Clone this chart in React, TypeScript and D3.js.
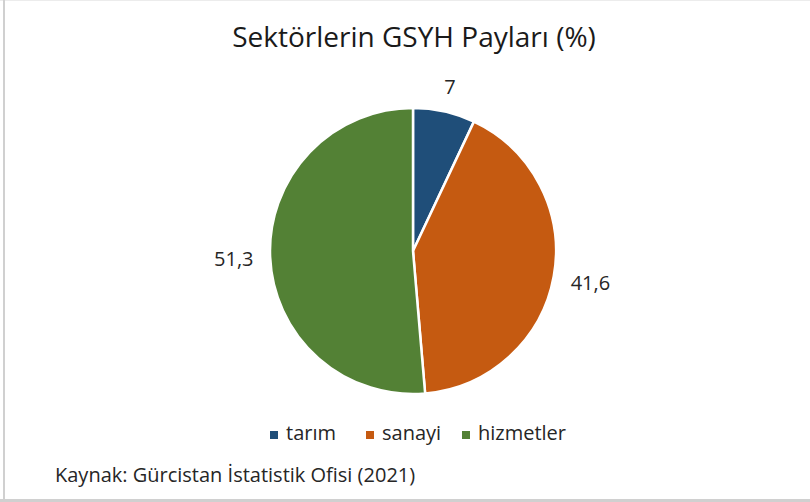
import React, { useEffect } from 'react';
import * as d3 from 'd3';

const categories = ['tarım', 'sanayi', 'hizmetler'];
const values = [7, 41.6, 51.3];
const valueLabels = ['7', '41,6', '51,3'];
const colors = ['#1F4E79', '#C55A11', '#538135'];

const title = 'Sektörlerin GSYH Payları (%)';
const source = 'Kaynak: Gürcistan İstatistik Ofisi (2021)';

const W = 810;
const H = 502;
const FONT = '"Open Sans", sans-serif';

type Slice = { name: string; value: number; label: string; color: string };

const App = () => {
  useEffect(() => {
    document.body.style.margin = '0';
  }, []);

  const data: Slice[] = categories.map((name, i) => ({
    name,
    value: values[i],
    label: valueLabels[i],
    color: colors[i],
  }));

  const cx = 413;
  const cy = 251;
  const radius = 143;

  const pie = d3.pie<Slice>().value(d => d.value).sort(null);
  const arc = d3.arc<d3.PieArcDatum<Slice>>().innerRadius(0).outerRadius(radius);
  const arcs = pie(data);

  // label sits just outside the slice edge, pushed out by its own box size
  const labelPos = (d: d3.PieArcDatum<Slice>) => {
    const a = (d.startAngle + d.endAngle) / 2;
    const hw = d.data.label.length * 5;
    const hh = 9;
    const rr = radius + 16 + Math.abs(Math.sin(a)) * hw + Math.abs(Math.cos(a)) * hh;
    return [Math.sin(a) * rr, -Math.cos(a) * rr];
  };

  // legend layout
  const legendX = d3.scaleOrdinal<string, number>().domain(categories).range([270, 366, 462]);

  return (
    <svg width={W} height={H} style={{ display: 'block', background: '#fff' }}>
      <line x1={0} x2={W} y1={0.5} y2={0.5} stroke="#ececec" strokeWidth={1} />
      <line x1={4} x2={4} y1={0} y2={H} stroke="#d0d0d0" strokeWidth={2} />
      <line x1={0} x2={W} y1={500.5} y2={500.5} stroke="#d0d0d0" strokeWidth={3} />

      <text x={414} y={47} textAnchor="middle" fontFamily={FONT} fontSize={28} fill="#1a1a1a">
        {title}
      </text>

      <g transform={`translate(${cx},${cy})`}>
        {arcs.map((d, i) => (
          <path key={i} d={arc(d) || ''} fill={d.data.color} stroke="#fff" strokeWidth={2.5} />
        ))}
        {arcs.map((d, i) => {
          const [x, y] = labelPos(d);
          return (
            <text
              key={'l' + i}
              x={x}
              y={y}
              textAnchor="middle"
              dominantBaseline="central"
              fontFamily={FONT}
              fontSize={20}
              fill="#262626"
            >
              {d.data.label}
            </text>
          );
        })}
      </g>

      <g>
        {data.map((d, i) => (
          <g key={i} transform={`translate(${legendX(d.name)},0)`}>
            <rect x={0} y={431} width={8} height={8} fill={d.color} />
            <text x={16} y={440} fontFamily={FONT} fontSize={20} fill="#262626">
              {d.name}
            </text>
          </g>
        ))}
      </g>

      <text x={55} y={482} fontFamily={FONT} fontSize={20} fill="#262626">
        {source}
      </text>
    </svg>
  );
};

export default App;
